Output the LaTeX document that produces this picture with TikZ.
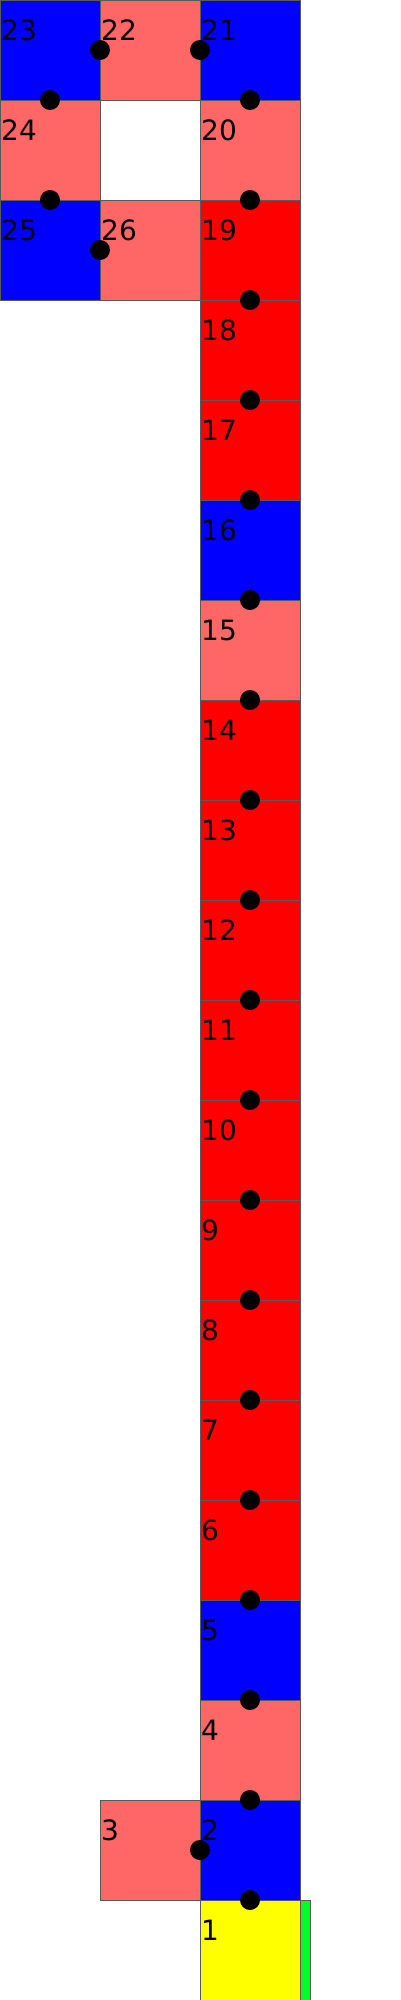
\documentclass[tikz,border=0pt]{standalone}
\usepackage{fontspec}
\setmainfont{DejaVu Sans}
\definecolor{lred}{HTML}{FF6666}
\definecolor{cred}{HTML}{FF0000}
\definecolor{cblue}{HTML}{0000FF}
\definecolor{cyellow}{HTML}{FFFF00}
\definecolor{cgreen}{HTML}{00FF22}
\begin{document}
\begin{tikzpicture}[x=1pt,y=-1pt,
  cell/.style={draw=black!65,line width=1pt,minimum width=100pt,minimum height=100pt,inner sep=0pt,outer sep=0pt,anchor=north west},
  lbl/.style={anchor=base west,inner sep=0pt,font=\fontsize{28}{30}\selectfont},
  dot/.style={circle,fill=black,minimum size=20pt,inner sep=0pt}]
\useasboundingbox (0,0) rectangle (400,2000);
\foreach \n/\x/\y/\c in {1/200/1900/cyellow,2/200/1800/cblue,3/100/1800/lred,4/200/1700/lred,5/200/1600/cblue,
  6/200/1500/cred,7/200/1400/cred,8/200/1300/cred,9/200/1200/cred,10/200/1100/cred,11/200/1000/cred,
  12/200/900/cred,13/200/800/cred,14/200/700/cred,15/200/600/lred,16/200/500/cblue,17/200/400/cred,
  18/200/300/cred,19/200/200/cred,20/200/100/lred,21/200/0/cblue,22/100/0/lred,23/0/0/cblue,
  24/0/100/lred,25/0/200/cblue,26/100/200/lred}{
  \node[cell,fill=\c] (c\n) at (\x,\y) {};
  \node[lbl] (t\n) at ([shift={(1pt,-40pt)}]c\n.north west) {\n};
}
\node[draw=black!65,line width=1pt,fill=cgreen,minimum width=10pt,minimum height=100pt,inner sep=0pt,anchor=north west] (g) at (300,1900) {};
\foreach \n in {1,2,4,5,6,7,8,9,10,11,12,13,14,15,16,17,18,19,20}{
  \node[dot] (d\n) at (c\n.north) {};
}
\node[dot] (dA) at (c2.west) {};
\node[dot] (dB) at (c21.west) {};
\node[dot] (dC) at (c22.west) {};
\node[dot] (dD) at (c23.south) {};
\node[dot] (dE) at (c24.south) {};
\node[dot] (dF) at (c26.west) {};
\end{tikzpicture}
\end{document}
